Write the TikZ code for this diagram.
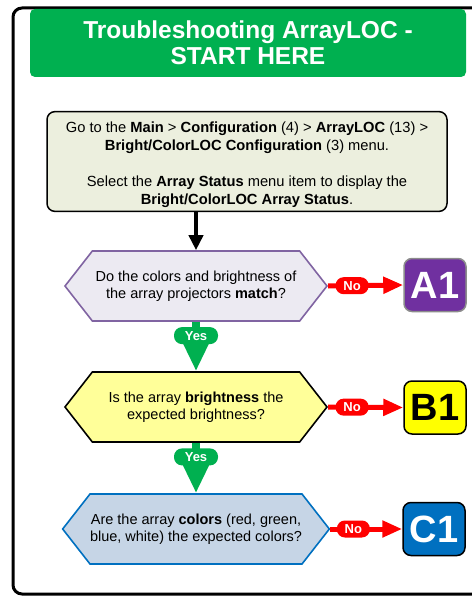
\documentclass[tikz,border=0pt]{standalone}
\usepackage{fontspec}
\setmainfont{Liberation Sans}
\usepackage{tikz}
\usetikzlibrary{shapes.symbols, arrows.meta, positioning}
\definecolor{ALGreen}{RGB}{0, 176, 80}
\definecolor{ALRed}{RGB}{255, 0, 0}
\definecolor{ALStep}{RGB}{236, 239, 222}
\definecolor{ALLilac}{RGB}{236, 234, 242}
\definecolor{ALPurple}{RGB}{128, 100, 162}
\definecolor{ALViolet}{RGB}{112, 48, 160}
\definecolor{ALCream}{RGB}{255, 255, 153}
\definecolor{ALYellow}{RGB}{255, 255, 0}
\definecolor{ALSky}{RGB}{198, 213, 230}
\definecolor{ALBlue}{RGB}{0, 112, 192}

\begin{document}
\begin{tikzpicture}[x=1pt,y=-1pt,
  question/.style={signal, signal to=west and east, signal pointer angle=104,
    minimum width=262pt, minimum height=70pt, inner sep=0pt, line width=1.6pt,
    align=center, font=\fontsize{14.5}{17.5}\selectfont},
  outcome/.style={draw, rounded corners=8pt, minimum width=62pt, minimum height=53pt,
    line width=1.5pt, inner sep=0pt, font=\fontsize{38}{40}\selectfont\bfseries},
  pill/.style={rounded corners=8pt, text=white, inner sep=0pt, minimum height=17pt,
    font=\fontsize{13}{14}\selectfont\bfseries},
  nolink/.style={ALRed, line width=5pt, -{Triangle[length=20pt,width=16pt]}},
  yeslink/.style={ALGreen, line width=8pt, -{Triangle[length=28pt,width=24pt]}}
]
  \path[use as bounding box] (0,0) rectangle (471,596);
  \draw[line width=3pt, rounded corners=9pt] (13,8) rectangle (500,594);

  \node[fill=ALGreen, rounded corners=5pt, minimum width=436pt, minimum height=68pt,
    text=white, align=center, font=\fontsize{24.5}{26}\selectfont\bfseries]
    (title) at (248,43) {Troubleshooting ArrayLOC -\\START HERE};

  \node[draw, fill=ALStep, line width=1.5pt, rounded corners=8pt, minimum width=400pt,
    minimum height=99pt, align=center, font=\fontsize{14.7}{18}\selectfont]
    (menu) at (247,161.5) {
    \rule{0pt}{18pt}Go to the \textbf{Main} > \textbf{Configuration} (4) > \textbf{ArrayLOC} (13) >\\
    \textbf{Bright/ColorLOC Configuration} (3) menu.\\[18pt]
    Select the \textbf{Array Status} menu item to display the\\
    \textbf{Bright/ColorLOC Array Status}.};

  \node[question, draw=ALPurple, fill=ALLilac] (match) at (196,286)
    {Do the colors and brightness of\\the array projectors \textbf{match}?};
  \node[question, draw=black, fill=ALCream] (bright) at (196,407)
    {Is the array \textbf{brightness} the\\expected brightness?};
  \node[question, draw=ALBlue, fill=ALSky] (colors) at (196,529)
    {Are the array \textbf{colors} (red, green,\\blue, white) the expected colors?};

  \node[outcome, draw=black!45, fill=ALViolet, text=white] (a1) at (435,285) {A1};
  \node[outcome, fill=ALYellow] (b1) at (435,407.5) {B1};
  \node[outcome, fill=ALBlue, text=white] (c1) at (434,529) {C1};

  \draw[line width=4pt, -{Triangle[length=15pt,width=14pt]}]
    (match.north |- menu.south) -- (match.north);

  \foreach \from/\to in {match/bright, bright/colors}{
    \draw[yeslink] (\from.south) -- (\to.north)
      node[pill, fill=ALGreen, minimum width=44pt, pos=0.28] {Yes};
  }
  \foreach \from/\to in {match/a1, bright/b1, colors/c1}{
    \draw[nolink] (\from.east) -- (\to.west)
      node[pill, fill=ALRed, minimum width=33pt, pos=0.32] {No};
  }
\end{tikzpicture}
\end{document}
